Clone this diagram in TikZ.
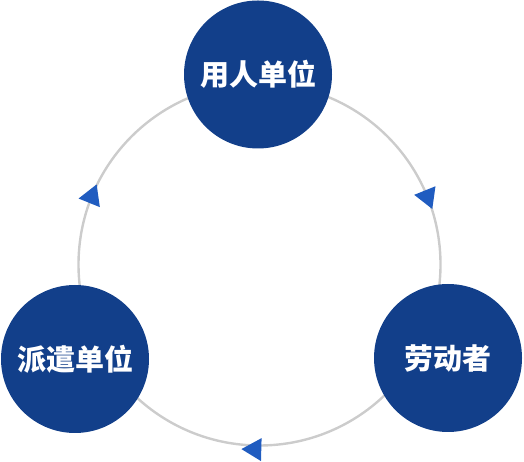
\documentclass[tikz,border=0pt]{standalone}
\usepackage{fontspec}
\newfontfamily\cjk{Noto Sans CJK SC}
\usetikzlibrary{shapes.geometric, calc}

\definecolor{partyblue}{HTML}{123F8A}
\definecolor{tipblue}{HTML}{205CC0}
\definecolor{ringgray}{HTML}{CCCCCC}

\tikzset{%
  % Specifications for style of nodes:
         party/.style = {circle, fill=partyblue, minimum size=148pt, inner sep=0pt, text=white, font=\cjk\bfseries\fontsize{29}{29}\selectfont},
         tip/.style   = {regular polygon, regular polygon sides=3, fill=tipblue, minimum size=26.5pt, inner sep=0pt},
         ring/.style  = {draw=ringgray, line width=2.4pt},
}

\begin{document}
\begin{tikzpicture}[x=1pt, y=1pt]
    \useasboundingbox (0,0) rectangle (524,462);
    % Draw ring
    \coordinate (hub) at (259.5,197.5);
    \draw[ring] (hub) circle (181);

    % Draw nodes
    \node (employer)   [party] at (258,387.5)   {用人单位};
    \node (agency)     [party] at (75,103)      {派遣单位};
    \node (worker)     [party] at (448,104)     {劳动者};

    % Draw arrows
    \node (tipright)   [tip, rotate=-158]  at ($(hub)+(22:181)$)    {};
    \node (tipbottom)  [tip, rotate=88.5]  at ($(hub)+(268.5:185)$) {};
    \node (tipleft)    [tip, rotate=-22]   at ($(hub)+(158:181)$)   {};

\end{tikzpicture}
\end{document}
